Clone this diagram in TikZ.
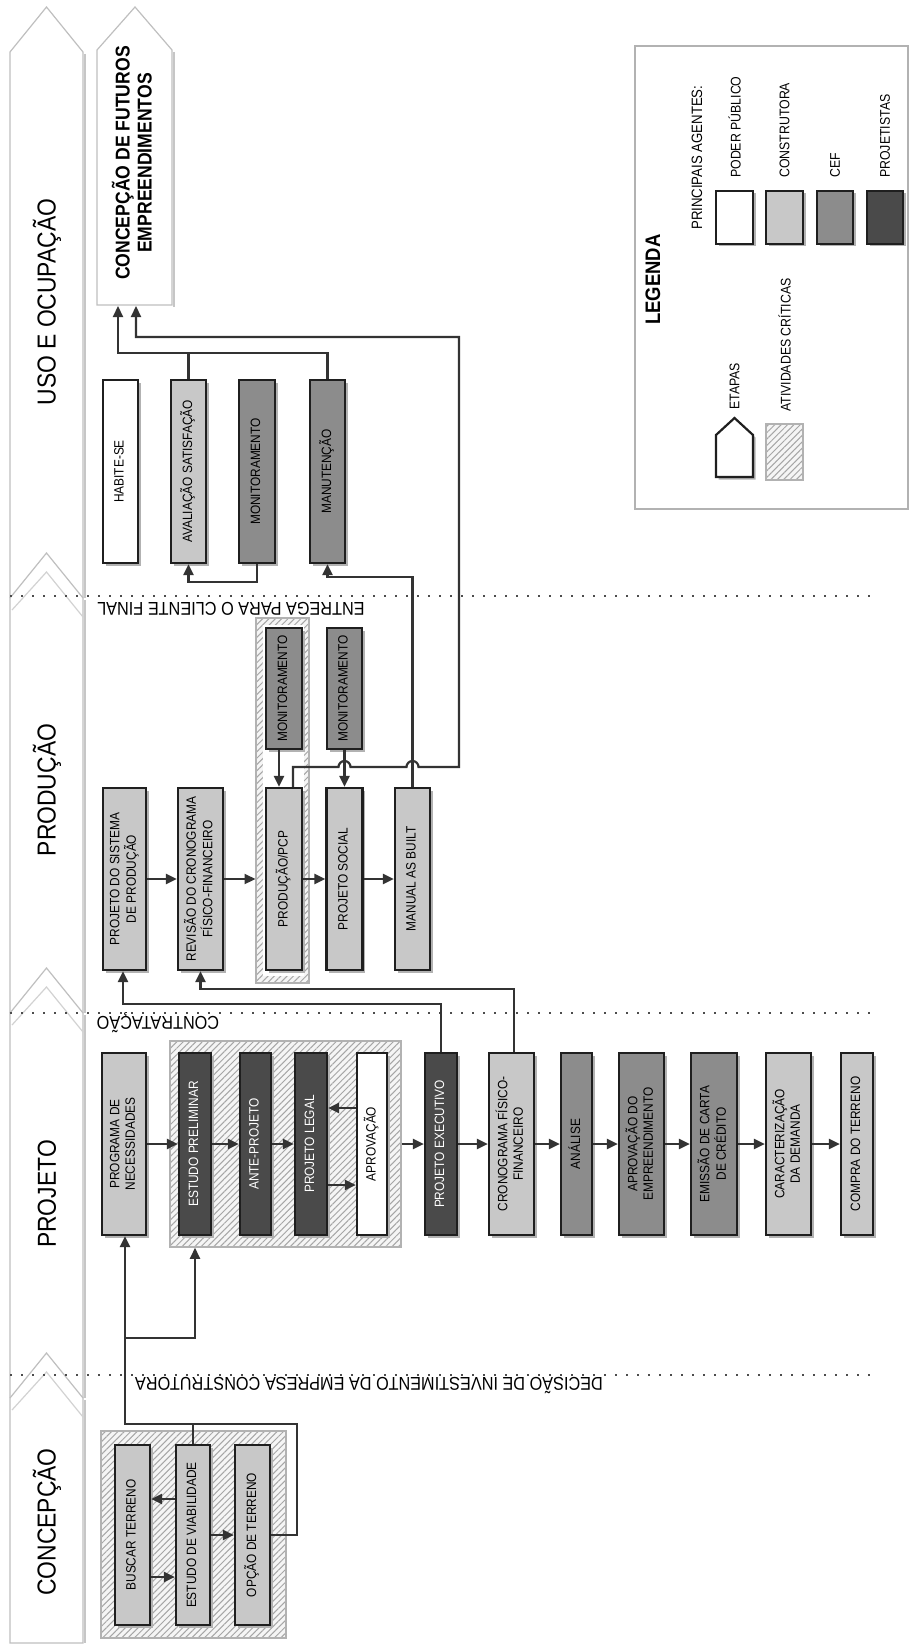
\documentclass[tikz,border=0pt]{standalone}
\usepackage{graphicx}
\usepackage{fontspec}
\setmainfont[FakeStretch=0.88]{Liberation Sans}
\usetikzlibrary{arrows.meta,shadows,patterns.meta,calc}
\definecolor{cct}{HTML}{C8C8C8}
\definecolor{ccef}{HTML}{8C8C8C}
\definecolor{cpj}{HTML}{4A4A4A}
\definecolor{lnc}{HTML}{333333}
\newcommand\rt[1]{\rotatebox{90}{\begin{tabular}{@{}c@{}}#1\end{tabular}}}
\begin{document}
\begin{tikzpicture}[x=1pt,y=-1pt,
  box/.style={draw=black!88, line width=2.2pt, inner sep=0pt, minimum height=182pt,
    general shadow={fill=black!30, shadow xshift=2.5pt, shadow yshift=-2.5pt},
    font=\fontsize{13.5}{15.5}\selectfont},
  pp/.style={box, fill=white},
  ct/.style={box, fill=cct},
  cef/.style={box, fill=ccef},
  pj/.style={box, fill=cpj, text=white},
  crit/.style={draw=gray!60, line width=1.5pt, inner sep=0pt, preaction={fill=gray!8},
    pattern={Lines[angle=45,distance=4.5pt,line width=1pt]}, pattern color=gray!70},
  arr/.style={draw=lnc, line width=2.2pt, -{Triangle[length=11pt,width=10pt]}},
  ln/.style={draw=lnc, line width=2.2pt},
  dotl/.style={draw=black!70, line width=2pt, dash pattern=on 2pt off 9pt},
  stagelbl/.style={inner sep=0pt, font=\fontsize{26}{28}\selectfont},
  bndlbl/.style={inner sep=0pt, font=\fontsize{18.5}{20}\selectfont},
  leglbl/.style={inner sep=0pt, anchor=south, font=\fontsize{14}{16}\selectfont},
  stageshape/.style={fill=white, draw=gray!50, line width=1.2pt}
]
\useasboundingbox (0,0) rectangle (910,1645);

% ---------- stages ----------
\foreach \ya/\ye in {7/598,553/1013,968/1398}{
  \draw[gray!45,line width=2.5pt] (85,\ya+47) -- (85,\ye);
  \filldraw[stageshape] (10,\ye) -- (10,\ya+45) -- (46.5,\ya) -- (83,\ya+45) -- (83,\ye);
}
\draw[gray!45,line width=2.5pt] (85,1400) -- (85,1643);
\filldraw[stageshape] (10,1643) -- (10,1398) -- (46.5,1353) -- (83,1398) -- (83,1643) -- cycle;
\foreach \ya in {553,968,1353}{
  \draw[gray!35,line width=1.2pt] (12,\ya+57) -- (46.5,\ya+19) -- (83,\ya+64);
}
\node[stagelbl] (sUso) at (47,302) {\rotatebox{90}{USO E OCUPAÇÃO}};
\node[stagelbl] (sProd) at (47,790) {\rotatebox{90}{PRODUÇÃO}};
\node[stagelbl] (sProj) at (47,1194) {\rotatebox{90}{PROJETO}};
\node[stagelbl] (sConc) at (47,1522) {\rotatebox{90}{CONCEPÇÃO}};

% ---------- futuros ----------
\draw[gray!45,line width=2.5pt] (174,52) -- (174,307);
\filldraw[stageshape] (97,305) -- (97,50) -- (135,7) -- (172,50) -- (172,305) -- cycle;
\node[inner sep=0pt, font=\bfseries\fontsize{20}{22}\selectfont] (futuros) at (135,163)
  {\rt{CONCEPÇÃO DE FUTUROS\\EMPREENDIMENTOS}};
\coordinate (futb1) at (118,306);
\coordinate (futb2) at (136,306);

% ---------- boundaries ----------
\draw[dotl] (10,596) -- (875,596);
\draw[dotl] (10,1013) -- (875,1013);
\draw[dotl] (10,1375) -- (875,1375);
\node[bndlbl] (lEntrega) at (231,609) {\rotatebox{180}{ENTREGA PARA O CLIENTE FINAL}};
\node[bndlbl] (lContrat) at (158,1023) {\rotatebox{180}{CONTRATAÇÃO}};
\node[bndlbl] (lDecisao) at (369,1386) {\rotatebox{180}{DECISÃO DE INVESTIMENTO DA EMPRESA CONSTRUTORA}};

% ---------- USO E OCUPACAO ----------
\node[pp, minimum width=35pt, minimum height=183pt] (habite) at (120.5,471.5) {\rt{HABITE-SE}};
\node[ct, minimum width=35pt, minimum height=183pt] (avaliacao) at (188.5,471.5) {\rt{AVALIAÇÃO SATISFAÇÃO}};
\node[cef, minimum width=36pt, minimum height=183pt] (monitU) at (257,471.5) {\rt{MONITORAMENTO}};
\node[cef, minimum width=35pt, minimum height=183pt] (manut) at (327.5,471.5) {\rt{MANUTENÇÃO}};

% ---------- PRODUCAO ----------
\node[crit, minimum width=53pt, minimum height=365pt] (critprod) at (282.5,800.5) {};
\fill[white] (263,625) rectangle (304,976);
\node[ct, minimum width=43pt] (projsist) at (124.5,879) {\rt{PROJETO DO SISTEMA\\DE PRODUÇÃO}};
\node[ct, minimum width=45pt] (revisao) at (200.5,879) {\rt{REVISÃO DO CRONOGRAMA\\FÍSICO-FINANCEIRO}};
\node[ct, minimum width=36pt] (pcp) at (284,879) {\rt{PRODUÇÃO/PCP}};
\node[ct, minimum width=36pt] (social) at (344.5,879) {\rt{PROJETO SOCIAL}};
\node[ct, minimum width=35pt] (manual) at (412.5,879) {\rt{MANUAL AS BUILT}};
\node[cef, minimum width=36pt, minimum height=121pt] (monit1) at (284,688.5) {\rt{MONITORAMENTO}};
\node[cef, minimum width=35pt, minimum height=121pt] (monit2) at (344.5,688.5) {\rt{MONITORAMENTO}};

% ---------- PROJETO ----------
\node[crit, minimum width=231pt, minimum height=206pt] (critproj) at (285.5,1144) {};
\node[ct, minimum width=44pt] (programa) at (124,1144) {\rt{PROGRAMA DE\\NECESSIDADES}};
\node[pj, minimum width=32pt] (estudo) at (195,1144) {\rt{ESTUDO PRELIMINAR}};
\node[pj, minimum width=31pt] (ante) at (255.5,1144) {\rt{ANTE-PROJETO}};
\node[pj, minimum width=32pt] (legal) at (311,1144) {\rt{PROJETO LEGAL}};
\node[pp, minimum width=30pt] (aprov) at (372,1144) {\rt{APROVAÇÃO}};
\node[pj, minimum width=32pt] (exec) at (441,1144) {\rt{PROJETO EXECUTIVO}};
\node[ct, minimum width=45pt] (crono) at (511.5,1144) {\rt{CRONOGRAMA FÍSICO-\\FINANCEIRO}};
\node[cef, minimum width=31pt] (analise) at (576.5,1144) {\rt{ANÁLISE}};
\node[cef, minimum width=45pt] (aprovemp) at (641.5,1144) {\rt{APROVAÇÃO DO\\EMPREENDIMENTO}};
\node[cef, minimum width=46pt] (carta) at (714,1144) {\rt{EMISSÃO DE CARTA\\DE CRÉDITO}};
\node[ct, minimum width=45pt] (caract) at (788.5,1144) {\rt{CARACTERIZAÇÃO\\DA DEMANDA}};
\node[ct, minimum width=32pt] (compra) at (857,1144) {\rt{COMPRA DO TERRENO}};

% ---------- CONCEPCAO ----------
\node[crit, minimum width=185pt, minimum height=207pt] (critconc) at (193.5,1534.5) {};
\node[ct, minimum width=35pt, minimum height=180pt] (buscar) at (132.5,1535) {\rt{BUSCAR TERRENO}};
\node[ct, minimum width=34pt, minimum height=180pt] (viab) at (193,1535) {\rt{ESTUDO DE VIABILIDADE}};
\node[ct, minimum width=35pt, minimum height=180pt] (opcao) at (252.5,1535) {\rt{OPÇÃO DE TERRENO}};

% ---------- connectors: uso ----------
\coordinate (j1) at (118,353);
\draw[arr] (avaliacao.north) |- (j1) -- (futb1);
\draw[ln] (manut.north) |- (avaliacao.north |- j1);
\coordinate (j2) at (459,767);
\coordinate (j3) at (459,337);
\draw[arr] ([xshift=9pt]pcp.north) |- (338.5,767) arc[start angle=180,end angle=360,radius=6]
  -- (406.5,767) arc[start angle=180,end angle=360,radius=6] -- (j2) -- (j3) -| (futb2);
\coordinate (j4) at (327.5,577);
\draw[arr] (manual.north) |- (j4) -- (manut.south);
\coordinate (j5) at (188.5,582);
\draw[arr] (monitU.south) |- (j5) -- (avaliacao.south);

% ---------- connectors: producao ----------
\draw[arr] ([xshift=-5pt]monit1.south) -- ([xshift=-5pt]pcp.north);
\draw[arr] (monit2.south) -- (social.north);
\draw[arr] (projsist) -- (revisao);
\draw[arr] (revisao.east) -- (revisao.east -| critprod.west);
\draw[arr] (pcp) -- (social);
\draw[arr] (social) -- (manual);
\coordinate (j6) at (123,1004);
\draw[arr] (exec.north) |- (j6) -- (j6 |- projsist.south);
\coordinate (j7) at (200.5,989);
\draw[arr] ([xshift=2.5pt]crono.north) |- (j7) -- (revisao.south);

% ---------- connectors: projeto ----------
\draw[arr] (programa) -- (estudo);
\draw[arr] (estudo) -- (ante);
\draw[arr] (ante) -- (legal);
\draw[arr] ([yshift=36pt]aprov.west) -- ([yshift=36pt]aprov.west -| legal.east);
\draw[arr] ([yshift=-41pt]legal.east) -- ([yshift=-41pt]legal.east -| aprov.west);
\draw[arr] (critproj.east |- exec) -- (exec.west);
\draw[arr] (exec) -- (crono);
\draw[arr] (crono) -- (analise);
\draw[arr] (analise) -- (aprovemp);
\draw[arr] (aprovemp) -- (carta);
\draw[arr] (carta) -- (caract);
\draw[arr] (caract) -- (compra);

% ---------- connectors: concepcao ----------
\draw[arr] ([yshift=36pt]viab.west) -- ([yshift=36pt]viab.west -| buscar.east);
\draw[arr] ([yshift=-42pt]buscar.east) -- ([yshift=-42pt]buscar.east -| viab.west);
\draw[arr] (viab) -- (opcao);
\coordinate (j8) at (297,1424);
\coordinate (j9) at (125,1424);
\draw[arr] (opcao.east) -| (j8) -- (j9) -- (j9 |- programa.south);
\draw[ln] (viab.north) -- (viab.north |- j8);
\coordinate (j10) at (125,1338);
\draw[arr] (j10) -| (estudo.south |- critproj.south);

% ---------- legend ----------
\draw[draw=gray!60, line width=2.5pt] (635,46) rectangle (908,509);
\node[leglbl, font=\bfseries\fontsize{21}{24}\selectfont] (lgTitle) at (653,325) {\rotatebox{90}{LEGENDA}};
\node[leglbl, font=\fontsize{15}{17}\selectfont] (lgAg) at (697,230) {\rotatebox{90}{PRINCIPAIS AGENTES:}};
\node[pp, minimum width=37pt, minimum height=53pt] (lgPP) at (734.5,217.5) {};
\node[ct, minimum width=37pt, minimum height=53pt] (lgCT) at (784.5,217.5) {};
\node[cef, minimum width=36pt, minimum height=53pt] (lgCEF) at (835,217.5) {};
\node[pj, minimum width=36pt, minimum height=53pt] (lgPJ) at (885,217.5) {};
\node[leglbl] (lgPPt) at (734.5,178) {\rotatebox{90}{PODER PÚBLICO}};
\node[leglbl] (lgCTt) at (784.5,178) {\rotatebox{90}{CONSTRUTORA}};
\node[leglbl] (lgCEFt) at (835,178) {\rotatebox{90}{CEF}};
\node[leglbl] (lgPJt) at (885,178) {\rotatebox{90}{PROJETISTAS}};
\fill[black!30] (718.5,437.5) -- (736.5,420.5) -- (755.5,437.5) -- (755.5,479.5) -- (718.5,479.5) -- cycle;
\filldraw[fill=white, draw=black!88, line width=2.2pt] (716,477) -- (716,435) -- (734.5,418) -- (753,435) -- (753,477) -- cycle;
\node[crit, minimum width=37pt, minimum height=56pt] (lgCrit) at (784.5,452) {};
\node[leglbl] (lgEt) at (734.5,410) {\rotatebox{90}{ETAPAS}};
\node[leglbl] (lgCr) at (784.5,412) {\rotatebox{90}{ATIVIDADES CRÍTICAS}};
\end{tikzpicture}
\end{document}
